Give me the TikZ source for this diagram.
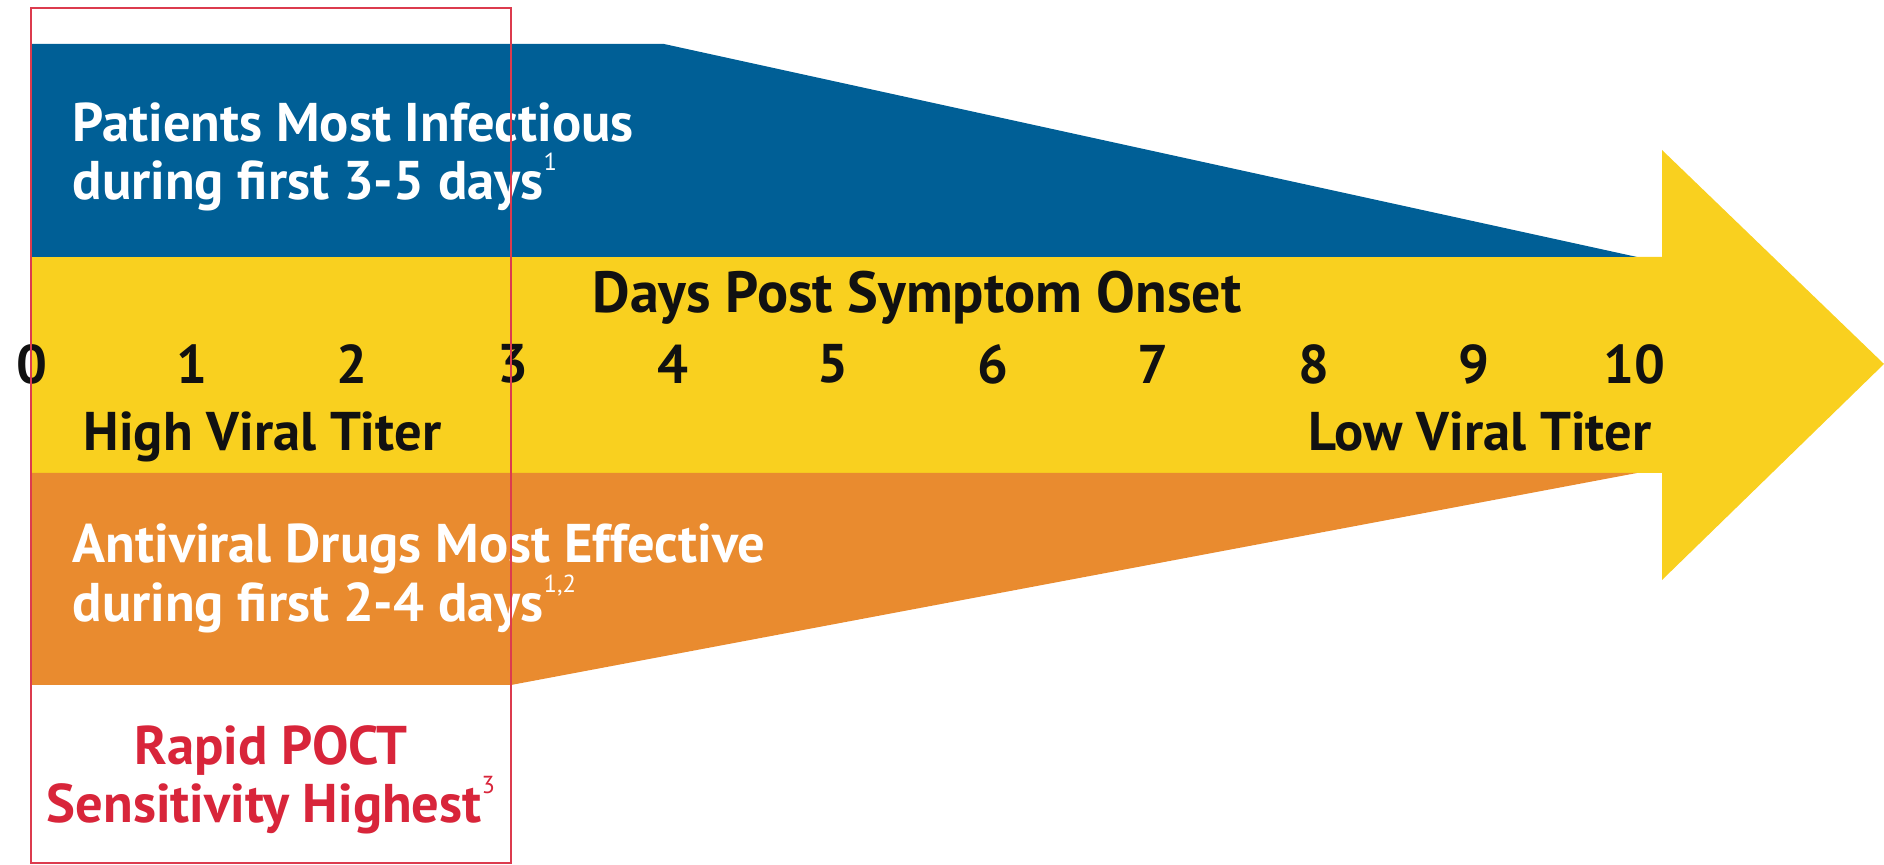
\documentclass[tikz,border=0pt]{standalone}
\usepackage{fontspec}
\setmainfont{PT Sans}
\usetikzlibrary{positioning}
\definecolor{infblue}{HTML}{005F96}
\definecolor{titeryellow}{HTML}{F9D01F}
\definecolor{drugorange}{HTML}{E98B2F}
\definecolor{poctred}{HTML}{D8253A}
\definecolor{inkblack}{HTML}{111111}
\def\refmark#1{\raisebox{0.55em}{\fontsize{7}{7}\selectfont\mdseries #1}}

\begin{document}
\begin{tikzpicture}
    [x=0.01cm, y=-0.01cm,
    bigtext/.style={font=\fontsize{15.5}{17}\selectfont\bfseries, inner sep=0pt},
    whitetext/.style={bigtext, text=white},
    darktext/.style={bigtext, text=inkblack},
    redtext/.style={bigtext, text=poctred, align=center},
    frame/.style={draw=poctred!90!white, line width=0.7pt}]
    \useasboundingbox (0,0) rectangle (1884,865);

    % corners of the bands
    \coordinate[] (b1) at (32, 44);
    \coordinate[] (b2) at (664, 44);
    \coordinate[] (b3) at (1637, 257);
    \coordinate[] (y1) at (32, 257);
    \coordinate[] (y2) at (1662, 257);
    \coordinate[] (y3) at (1662, 150);
    \coordinate[] (tip) at (1884, 364);
    \coordinate[] (y4) at (1662, 580);
    \coordinate[] (y5) at (1662, 473);
    \coordinate[] (o1) at (32, 473);
    \coordinate[] (o2) at (1637, 473);
    \coordinate[] (o3) at (511, 685);
    \coordinate[] (o4) at (32, 685);

    \fill[titeryellow] (y1) -- (y2) -- (y3) -- (tip) -- (y4) -- (y5) -- (o1) -- cycle;
    \fill[infblue] (b1) -- (b2) -- (b3) -- (y1) -- cycle;
    \fill[drugorange] (o1) -- (o2) -- (o3) -- (o4) -- cycle;

    \node[whitetext, anchor=base west] (inf1) at (72, 142) {Patients Most Infectious};
    \node[whitetext, anchor=base west] (inf2) at (72, 200) {during first 3-5 days\refmark{1}};

    \node[darktext, font=\fontsize{16.5}{18}\selectfont\bfseries] (axis) at (917, 298) {Days Post Symptom Onset};
    \foreach \i in {0,...,10}
    {
        \node[darktext] (d\i) at (32 + \i*160.2, 364) {\i};
    }
    \node[darktext, anchor=base west] (high) at (83, 451) {High Viral Titer};
    \node[darktext, anchor=base east] (low) at (1652, 451) {Low Viral Titer};

    \node[whitetext, anchor=base west] (drug1) at (72, 563) {Antiviral Drugs Most Effective};
    \node[whitetext, anchor=base west] (drug2) at (72, 622) {during first 2-4 days\refmark{1,2}};

    \node[redtext, anchor=base] (poct1) at (271, 765) {Rapid POCT};
    \node[redtext, anchor=base] (poct2) at (271, 823) {Sensitivity Highest\refmark{3}};

    \draw[frame] (31, 8) rectangle (511, 863);
\end{tikzpicture}
\end{document}
